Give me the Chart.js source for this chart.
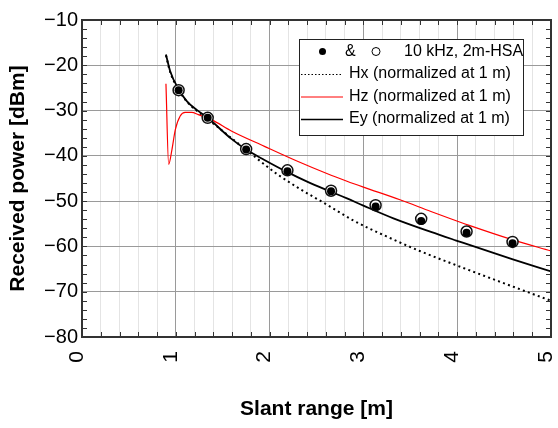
<!DOCTYPE html>
<html>
<head>
<meta charset="utf-8">
<script src="https://cdn.jsdelivr.net/npm/chart.js@4.4.1/dist/chart.umd.min.js"></script>
<style>
html,body{margin:0;padding:0;background:#fff;}
#c{display:block;}
</style>
</head>
<body>
<canvas id="c" width="558" height="428"></canvas>
<script>
// ---- Data ----
const xTicksMajor = [0, 1, 2, 3, 4, 5];
const yTicks = [-80, -70, -60, -50, -40, -30, -20, -10];

// Measured points (filled dots and open circles)
const measX      = [1.03, 1.34, 1.75, 2.19, 2.655, 3.13, 3.616, 4.10, 4.59];
const filledY    = [-25.5, -31.6, -38.6, -43.4, -47.8, -51.2, -54.4, -57.0, -59.3];
const openY      = [-25.5, -31.6, -38.5, -43.2, -47.7, -50.9, -53.9, -56.7, -59.0];

// Hx (normalized at 1 m) - dotted
const hxX = [0.895, 0.94, 1.03, 1.117, 1.22, 1.34, 1.45, 1.6, 1.8, 1.945, 2.085, 2.30, 2.47, 2.58, 2.70, 2.895, 3.247, 3.6, 3.97, 4.585, 5.0];
const hxY = [-17.8, -21.5, -25.4, -28.0, -30.0, -31.9, -33.7, -36.2, -39.5, -41.9, -44.1, -47.0, -49.1, -50.4, -51.9, -54.3, -57.8, -61.0, -64.0, -68.8, -72.0];

// Hz (normalized at 1 m) - red
const hzX = [0.895, 0.924, 0.959, 0.995, 1.047, 1.10, 1.17, 1.24, 1.38, 1.592, 1.945, 2.297, 2.61, 2.825, 3.0, 3.39, 3.72, 3.93, 4.12, 4.585, 5.0];
const hzY = [-24.1, -41.9, -38.6, -34.2, -31.2, -30.4, -30.4, -30.9, -32.0, -34.5, -37.9, -41.2, -43.9, -45.6, -46.9, -49.7, -52.3, -53.9, -55.3, -58.5, -61.0];

// Ey (normalized at 1 m) - black
const eyX = [0.895, 0.94, 1.03, 1.117, 1.22, 1.34, 1.59, 1.75, 1.945, 2.19, 2.40, 2.65, 2.825, 3.0, 3.32, 3.72, 3.99, 4.585, 5.0];
const eyY = [-17.6, -21.3, -25.3, -27.9, -29.8, -31.6, -36.2, -38.6, -40.9, -43.6, -45.7, -47.9, -49.4, -51.0, -53.8, -56.8, -58.7, -62.8, -65.5];

const legendLabels = ['10 kHz, 2m-HSA', 'Hx (normalized at 1 m)', 'Hz (normalized at 1 m)', 'Ey (normalized at 1 m)'];
const xTitle = 'Slant range [m]';
const yTitle = 'Received power [dBm]';

const pts = (xs, ys) => xs.map((x, i) => ({x: x, y: ys[i]}));
const isMajor = v => Math.abs(v - Math.round(v)) < 1e-6;

const frameAndTicks = {
  id: 'frameAndTicks',
  beforeDatasetsDraw(chart) {
    const {ctx, chartArea: a, scales: {x, y}} = chart;
    ctx.save();
    ctx.strokeStyle = '#333';
    ctx.lineWidth = 1;
    ctx.beginPath();
    for (let i = 0; i <= 25; i++) {
      const px = Math.round(x.getPixelForValue(i * 0.2)) + 0.5;
      ctx.moveTo(px, a.bottom); ctx.lineTo(px, a.bottom - 5);
      ctx.moveTo(px, a.top); ctx.lineTo(px, a.top + 5);
    }
    for (let v = -80; v <= -10; v += 2) {
      const py = Math.round(y.getPixelForValue(v)) + 0.5;
      ctx.moveTo(a.left, py); ctx.lineTo(a.left + 5, py);
      ctx.moveTo(a.right, py); ctx.lineTo(a.right - 5, py);
    }
    ctx.stroke();
    ctx.restore();
  },
  afterDraw(chart) {
    const {ctx, chartArea: a} = chart;
    ctx.save();
    ctx.strokeStyle = '#333';
    ctx.lineWidth = 2;
    ctx.strokeRect(a.left, a.top, a.right - a.left, a.bottom - a.top);

    // legend box
    const bx = 299.5, by = 39.5, bw = 224, bh = 96;
    ctx.fillStyle = '#fff';
    ctx.fillRect(bx, by, bw, bh);
    ctx.lineWidth = 1;
    ctx.strokeStyle = '#222';
    ctx.strokeRect(bx, by, bw, bh);

    ctx.font = '16px "Liberation Sans", Arial, sans-serif';
    ctx.fillStyle = '#000';
    ctx.textBaseline = 'middle';
    ctx.textAlign = 'left';
    const rows = [51.5, 74, 96.5, 119];
    // row 1
    ctx.beginPath(); ctx.arc(322.5, rows[0], 3.5, 0, Math.PI * 2); ctx.fill();
    ctx.fillText('&', 345, rows[0]);
    ctx.beginPath(); ctx.arc(376, rows[0], 4, 0, Math.PI * 2);
    ctx.strokeStyle = '#000'; ctx.lineWidth = 1; ctx.stroke();
    ctx.fillText(legendLabels[0], 404, rows[0]);
    // rows 2-4
    const styles = [
      {c: '#000', w: 1.2, d: [1.5, 2]},
      {c: '#ff0000', w: 1, d: []},
      {c: '#000', w: 1.5, d: []}
    ];
    for (let i = 0; i < 3; i++) {
      const yy = rows[i + 1];
      ctx.save();
      ctx.strokeStyle = styles[i].c; ctx.lineWidth = styles[i].w; ctx.setLineDash(styles[i].d);
      ctx.beginPath(); ctx.moveTo(301, yy + 0.5); ctx.lineTo(343, yy + 0.5); ctx.stroke();
      ctx.restore();
      ctx.fillText(legendLabels[i + 1], 349, yy);
    }
    ctx.restore();
  }
};

new Chart(document.getElementById('c'), {
  type: 'scatter',
  data: {
    datasets: [
      { label: 'filled', data: pts(measX, filledY), showLine: false, pointRadius: 4, pointBackgroundColor: '#000', pointBorderColor: '#000', pointBorderWidth: 0, order: 0 },
      { label: 'open', data: pts(measX, openY), showLine: false, pointRadius: 5.5, pointBackgroundColor: '#fff', pointBorderColor: '#111', pointBorderWidth: 1.5, order: 1 },
      { label: legendLabels[3], data: pts(eyX, eyY), showLine: true, borderColor: '#000', borderWidth: 1.8, pointRadius: 0, cubicInterpolationMode: 'monotone', order: 2 },
      { label: legendLabels[2], data: pts(hzX, hzY), showLine: true, borderColor: '#ff0000', borderWidth: 1.2, pointRadius: 0, cubicInterpolationMode: 'monotone', order: 3 },
      { label: legendLabels[1], data: pts(hxX, hxY), showLine: true, borderColor: '#000', borderWidth: 2, borderDash: [2, 3.3], pointRadius: 0, cubicInterpolationMode: 'monotone', order: 4 }
    ]
  },
  options: {
    responsive: false,
    animation: false,
    devicePixelRatio: 1,
    layout: { padding: { top: 20, right: 2, left: 0, bottom: 0 } },
    plugins: { legend: { display: false }, tooltip: { enabled: false } },
    scales: {
      x: {
        type: 'linear', min: 0, max: 5,
        afterFit: s => { s.height = 91; s.paddingLeft = 0; s.paddingRight = 0; },
        border: { display: false },
        grid: { drawTicks: false, lineWidth: 1, color: c => isMajor(c.tick.value) ? '#9a9a9a' : '#e4e4e4' },
        ticks: {
          stepSize: 0.2, autoSkip: false, minRotation: 90, maxRotation: 90, padding: 14, labelOffset: -5,
          color: '#000', font: { family: '"Liberation Sans", Arial, sans-serif', size: 21 },
          callback: v => isMajor(v) && xTicksMajor.includes(Math.round(v)) ? String(Math.round(v)) : ''
        },
        title: { display: true, text: xTitle, color: '#000', padding: { top: 0, bottom: 6 },
                 font: { family: '"Liberation Sans", Arial, sans-serif', size: 21, weight: 'bold' } }
      },
      y: {
        type: 'linear', min: -80, max: -10,
        afterFit: s => { s.width = 82; s.paddingTop = 0; s.paddingBottom = 0; },
        afterBuildTicks: s => { s.ticks = yTicks.map(v => ({value: v})); },
        border: { display: false },
        grid: { drawTicks: false, lineWidth: 1, color: '#9a9a9a' },
        ticks: {
          padding: 4, color: '#000', font: { family: '"Liberation Sans", Arial, sans-serif', size: 20 },
          callback: v => String(v).replace('-', '\u2212')
        },
        title: { display: true, text: yTitle, color: '#000', padding: { top: 6, bottom: 0 },
                 font: { family: '"Liberation Sans", Arial, sans-serif', size: 21, weight: 'bold' } }
      }
    }
  },
  plugins: [frameAndTicks]
});
</script>
</body>
</html>
